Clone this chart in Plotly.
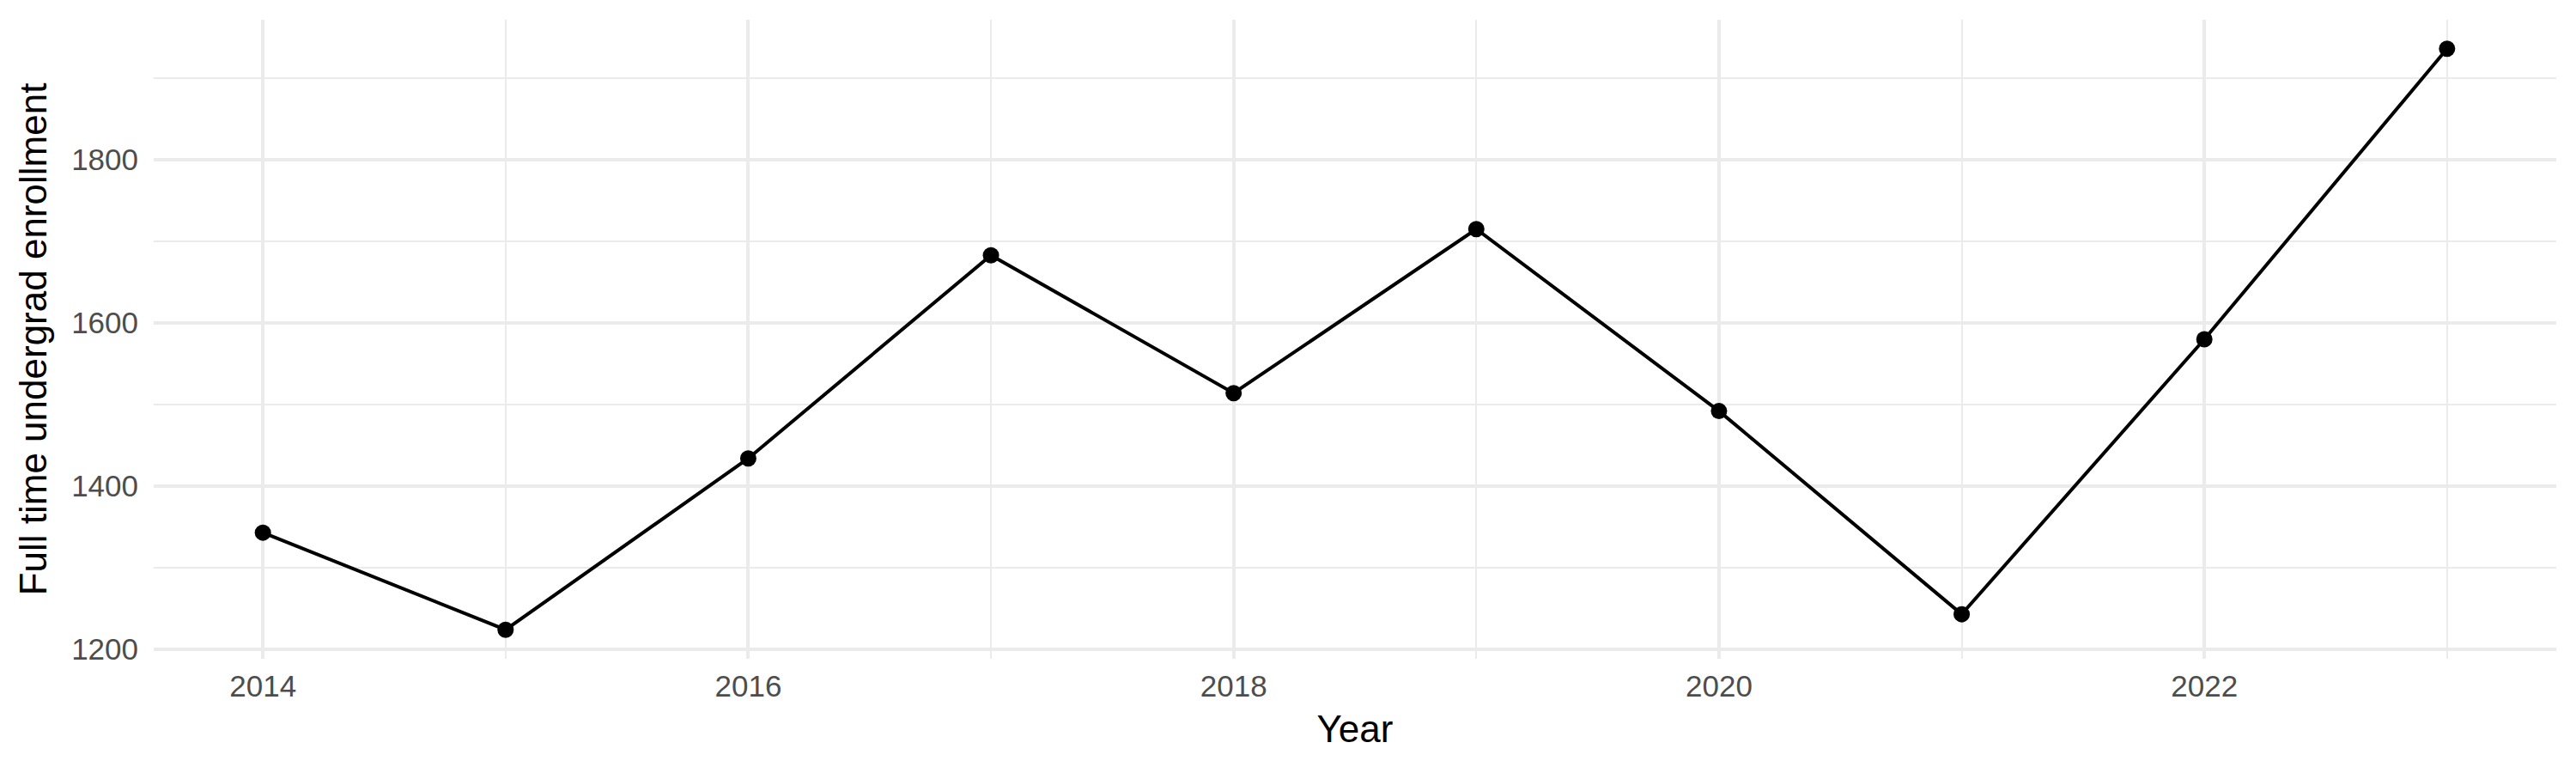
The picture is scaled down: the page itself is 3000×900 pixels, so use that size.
import plotly.graph_objects as go

years = [2014, 2015, 2016, 2017, 2018, 2019, 2020, 2021, 2022, 2023]
enrollment = [1343, 1224, 1434, 1683, 1514, 1715, 1492, 1243, 1580, 1936]
x_ticks = [2014, 2016, 2018, 2020, 2022]
y_ticks = [1200, 1400, 1600, 1800]
y_minor = [1300, 1500, 1700, 1900]

# ggplot-style 5% expansion of the data range
ymin, ymax = min(enrollment), max(enrollment)
ypad = (ymax - ymin) * 0.05
xmin, xmax = min(years), max(years)
xpad = (xmax - xmin) * 0.05

FONT = "Liberation Sans, Arial, sans-serif"
GRID = "#EBEBEB"

fig = go.Figure()
fig.add_trace(go.Scatter(
    x=years, y=enrollment, mode="lines+markers",
    line=dict(color="black", width=4),
    marker=dict(color="black", size=19),
    showlegend=False,
))

# margins compensate for the page's default 8px body margin
fig.update_layout(
    width=3000, height=900,
    margin=dict(l=171, r=31, t=15, b=141, autoexpand=False),
    paper_bgcolor="white", plot_bgcolor="white",
    font=dict(family=FONT, color="black"),
    xaxis=dict(
        automargin=False,
        range=[xmin - xpad, xmax + xpad],
        tickmode="array", tickvals=x_ticks, ticktext=[str(v) for v in x_ticks],
        showgrid=True, gridcolor=GRID, gridwidth=4,
        minor=dict(tickmode="array", tickvals=years, showgrid=True,
                   gridcolor=GRID, gridwidth=2),
        zeroline=False, showline=False,
        ticks="outside", ticklen=1, tickcolor="rgba(0,0,0,0)",
        tickfont=dict(family=FONT, size=35, color="#4D4D4D"),
        title=dict(text="Year", font=dict(family=FONT, size=44, color="black"), standoff=16),
    ),
    yaxis=dict(
        automargin=False,
        range=[ymin - ypad, ymax + ypad],
        tickmode="array", tickvals=y_ticks, ticktext=[str(v) for v in y_ticks],
        showgrid=True, gridcolor=GRID, gridwidth=4,
        minor=dict(tickmode="array", tickvals=y_minor, showgrid=True,
                   gridcolor=GRID, gridwidth=2),
        zeroline=False, showline=False,
        ticks="outside", ticklen=10, tickcolor="rgba(0,0,0,0)",
        tickfont=dict(family=FONT, size=35, color="#4D4D4D"),
        title=dict(text="Full time undergrad enrollment", font=dict(family=FONT, size=44, color="black"), standoff=14),
    ),
)

fig.write_html("out.html")
